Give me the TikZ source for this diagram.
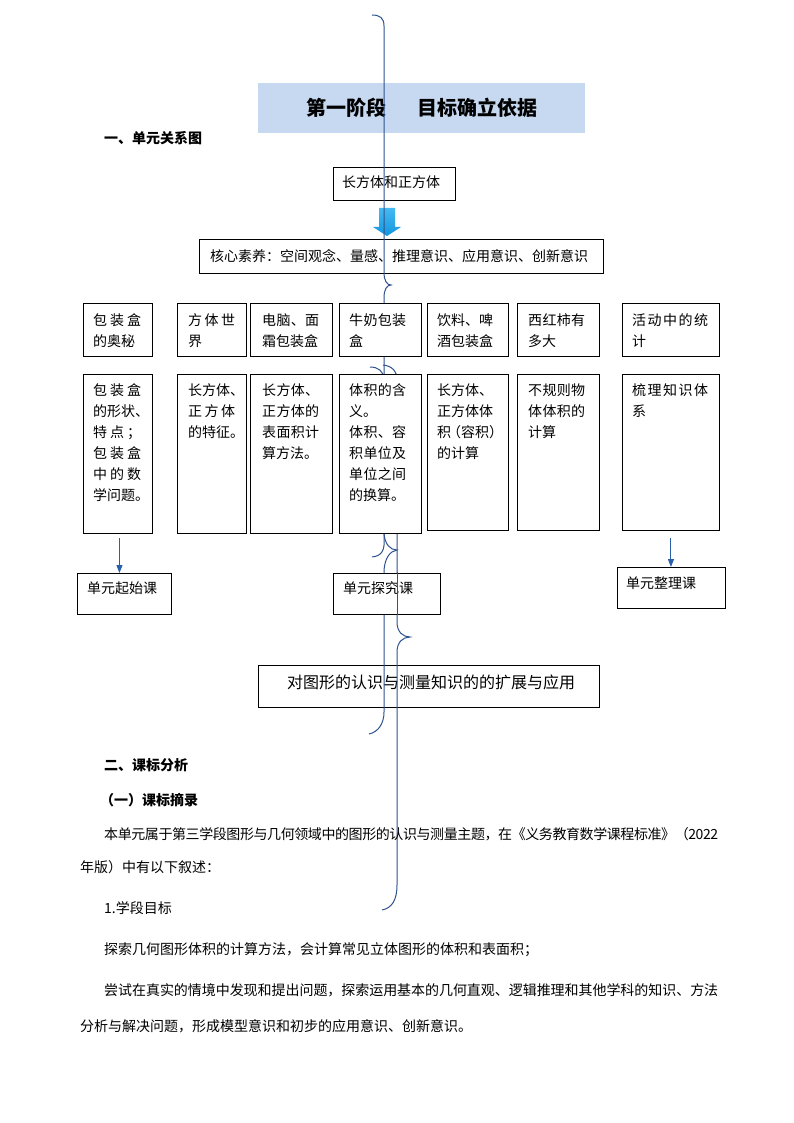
\documentclass[tikz,border=0pt]{standalone}
\usepackage{fontspec}
\setmainfont{Noto Sans CJK SC}
\usetikzlibrary{arrows.meta}
\definecolor{bracec}{RGB}{47,82,143}
\definecolor{arrc}{RGB}{40,96,170}
\definecolor{titlebg}{RGB}{198,217,241}
\definecolor{blocktop}{RGB}{70,185,242}
\definecolor{blockbot}{RGB}{18,150,222}
\def\spreadA#1{\ifx\relax#1\else#1\hskip 0pt plus 1fil minus 3pt\expandafter\spreadA\fi}
\newcommand\jline[2]{\makebox[#1][s]{\spreadA#2\relax\unskip}}
\tikzset{
  box/.style={draw, line width=0.9pt, fill=white, rectangle, inner sep=0pt, anchor=north west},
  txt/.style={inner sep=0pt, anchor=base west, font=\fontsize{14}{21}\selectfont},
  bodytxt/.style={inner sep=0pt, anchor=base west, font=\fontsize{14}{21}\selectfont},
  headtxt/.style={inner sep=0pt, anchor=base west, font=\bfseries\fontsize{14}{21}\selectfont},
  bracepath/.style={draw=bracec, line width=1pt},
  arr/.style={draw=arrc, line width=1pt, -{Triangle[width=6pt,length=8pt]}},
}
\begin{document}
\begin{tikzpicture}[x=1pt,y=-1pt]
\useasboundingbox (0,0) rectangle (794,1123);
\fill[white] (0,0) rectangle (794,1123);

% title
\node[fill=titlebg, minimum width=327pt, minimum height=50pt, anchor=north west, inner sep=0pt] (title) at (258,83) {};
\node[inner sep=0pt, anchor=base, font=\bfseries\fontsize{20}{24}\selectfont] (titletext) at (422,115.5) {第一阶段\hspace{31pt}目标确立依据};
\node[headtxt] (sec1) at (104,144) {一、单元关系图};

% top boxes
\node[box, minimum width=122pt, minimum height=33pt] (unit) at (333,167) {};
\node[txt] (unittext) at (342,188) {长方体和正方体};
\node[box, minimum width=404pt, minimum height=34pt] (core) at (199,239) {};
\node[txt] (coretext) at (210,261) {核心素养：空间观念、量感、推理意识、应用意识、创新意识};

% block arrow
\shade[top color=blocktop, bottom color=blockbot] (379,208) -- (395,208) -- (395,227) -- (401,227) -- (387,236) -- (373,227) -- (379,227) -- cycle;

% final box
\node[box, minimum width=341pt, minimum height=42pt] (ext) at (258,665) {};
\node[inner sep=0pt, anchor=base west, font=\fontsize{16}{24}\selectfont] (exttext) at (287,688) {对图形的认识与测量知识的的扩展与应用};

% braces 1 and 2
\path[bracepath] (372,15) .. controls (380,15) and (384,18) .. (384,26) -- (384,272)
  .. controls (384,281) and (387,285) .. (391,285) .. controls (387,285) and (384,289) .. (384,298)
  -- (384,538) .. controls (385,550) and (382,556) .. (372,557);
\path[bracepath] (370,367) .. controls (378,367) and (384,371) .. (384,380) -- (384,534)
  .. controls (385,544) and (390,550) .. (397,550) .. controls (390,551) and (385,558) .. (384,570)
  -- (384,712) .. controls (384,724) and (378,732) .. (369,734);
% brace 3
\path[bracepath] (383,365) .. controls (392,366) and (397,371) .. (397,380) -- (397,622)
  .. controls (397,632) and (403,637) .. (410,637) .. controls (403,637) and (397,642) .. (397,652)
  -- (397,885) .. controls (397,900) and (392,908) .. (382,910);

% top row
\node[box, minimum width=69pt, minimum height=53pt] (t1) at (83,303) {};
\node[txt] at ([xshift=10pt,yshift=-22.5pt]t1.north west) {\parbox[t]{90pt}{\jline{48pt}{包装盒}\\的奥秘}};
\node[box, minimum width=69pt, minimum height=53pt] (t2) at (177,303) {};
\node[txt] at ([xshift=11pt,yshift=-22.5pt]t2.north west) {\parbox[t]{90pt}{\jline{47pt}{方体世}\\界}};
\node[box, minimum width=82pt, minimum height=53pt] (t3) at (250,303) {};
\node[txt] at ([xshift=12pt,yshift=-22.5pt]t3.north west) {\parbox[t]{90pt}{\jline{57pt}{电脑、面}\\霜包装盒}};
\node[box, minimum width=82pt, minimum height=53pt] (t4) at (339,303) {};
\node[txt] at ([xshift=10pt,yshift=-22.5pt]t4.north west) {\parbox[t]{90pt}{\jline{57pt}{牛奶包装}\\盒}};
\node[box, minimum width=81pt, minimum height=53pt] (t5) at (427,303) {};
\node[txt] at ([xshift=10pt,yshift=-22.5pt]t5.north west) {\parbox[t]{90pt}{\jline{56pt}{饮料、啤}\\酒包装盒}};
\node[box, minimum width=82pt, minimum height=53pt] (t6) at (517,303) {};
\node[txt] at ([xshift=11pt,yshift=-22.5pt]t6.north west) {\parbox[t]{90pt}{\jline{57pt}{西红柿有}\\多大}};
\node[box, minimum width=97pt, minimum height=53pt] (t7) at (622,303) {};
\node[txt] at ([xshift=10pt,yshift=-22.5pt]t7.north west) {\parbox[t]{90pt}{\jline{76pt}{活动中的统}\\计}};

% bottom row
\node[box, minimum width=69pt, minimum height=159pt] (b1) at (83,374) {};
\node[txt] at ([xshift=10pt,yshift=-21.5pt]b1.north west) {\parbox[t]{90pt}{\jline{48pt}{包装盒}\\的形状、\\\jline{48pt}{特点；}\\\jline{48pt}{包装盒}\\\jline{48pt}{中的数}\\学问题。}};
\node[box, minimum width=69pt, minimum height=159pt] (b2) at (177,374) {};
\node[txt] at ([xshift=11pt,yshift=-21.5pt]b2.north west) {\parbox[t]{90pt}{长方体、\\\jline{47pt}{正方体}\\的特征。}};
\node[box, minimum width=82pt, minimum height=159pt] (b3) at (250,374) {};
\node[txt] at ([xshift=12pt,yshift=-21.5pt]b3.north west) {\parbox[t]{90pt}{\jline{57pt}{长方体、}\\\jline{57pt}{正方体的}\\\jline{57pt}{表面积计}\\算方法。}};
\node[box, minimum width=81pt, minimum height=156pt] (b5) at (427,374) {};
\node[txt] at ([xshift=10pt,yshift=-21.5pt]b5.north west) {\parbox[t]{90pt}{\jline{56pt}{长方体、}\\\jline{56pt}{正方体体}\\积\kern-4pt（容积）\\的计算}};
\node[box, minimum width=82pt, minimum height=156pt] (b6) at (517,374) {};
\node[txt] at ([xshift=11pt,yshift=-21.5pt]b6.north west) {\parbox[t]{90pt}{\jline{57pt}{不规则物}\\\jline{57pt}{体体积的}\\计算}};
\node[box, minimum width=97pt, minimum height=156pt] (b7) at (622,374) {};
\node[txt] at ([xshift=10pt,yshift=-21.5pt]b7.north west) {\parbox[t]{90pt}{\jline{76pt}{梳理知识体}\\系}};

% lesson boxes
\node[box, minimum width=94pt, minimum height=41pt] (s1) at (77,573) {};
\node[txt] at (87,593) {单元起始课};
\node[box, minimum width=107pt, minimum height=41pt] (s2) at (333,573) {};
\node[txt] at (343,593) {单元探究课};
\node[box, minimum width=108pt, minimum height=41pt] (s3) at (617,567) {};
\node[txt] at (626,588) {单元整理课};

% brace 3 visible over the lesson box
\path[bracepath] (397,572) -- (397,615);

% box 4 bottom drawn over braces
\node[box, minimum width=82pt, minimum height=159pt] (b4) at (339,374) {};
\node[txt] at ([xshift=10pt,yshift=-21.5pt]b4.north west) {\parbox[t]{90pt}{\jline{57pt}{体积的含}\\义。\\\jline{57pt}{体积、容}\\\jline{57pt}{积单位及}\\\jline{57pt}{单位之间}\\的换算。}};

% arrows
\draw[arr] ([xshift=1.5pt,yshift=-4pt]b1.south) -- ([xshift=1.5pt]b1.south |- s1.north);
\draw[arr] ([yshift=-7pt]b7.south) -- (b7.south |- s3.north);

% body text
\node[headtxt] (sec2) at (104,770) {二、课标分析};
\node[headtxt] (sec21) at (100,805) {（一）课标摘录};
\node[bodytxt] (p1a) at (104,839) {\jline{614pt}{本单元属于第三学段图形与几何领域中的图形的认识与测量主题，在《义务教育数学课程标准》（2022}};
\node[bodytxt] (p1b) at (80,872) {年版）中有以下叙述：};
\node[bodytxt] (p2) at (104,913) {1.学段目标};
\node[bodytxt] (p3) at (104,954) {探索几何图形体积的计算方法，会计算常见立体图形的体积和表面积；};
\node[bodytxt] (p4a) at (104,995) {\jline{614pt}{尝试在真实的情境中发现和提出问题，探索运用基本的几何直观、逻辑推理和其他学科的知识、方法}};
\node[bodytxt] (p4b) at (80,1031) {分析与解决问题，形成模型意识和初步的应用意识、创新意识。};
\end{tikzpicture}
\end{document}
